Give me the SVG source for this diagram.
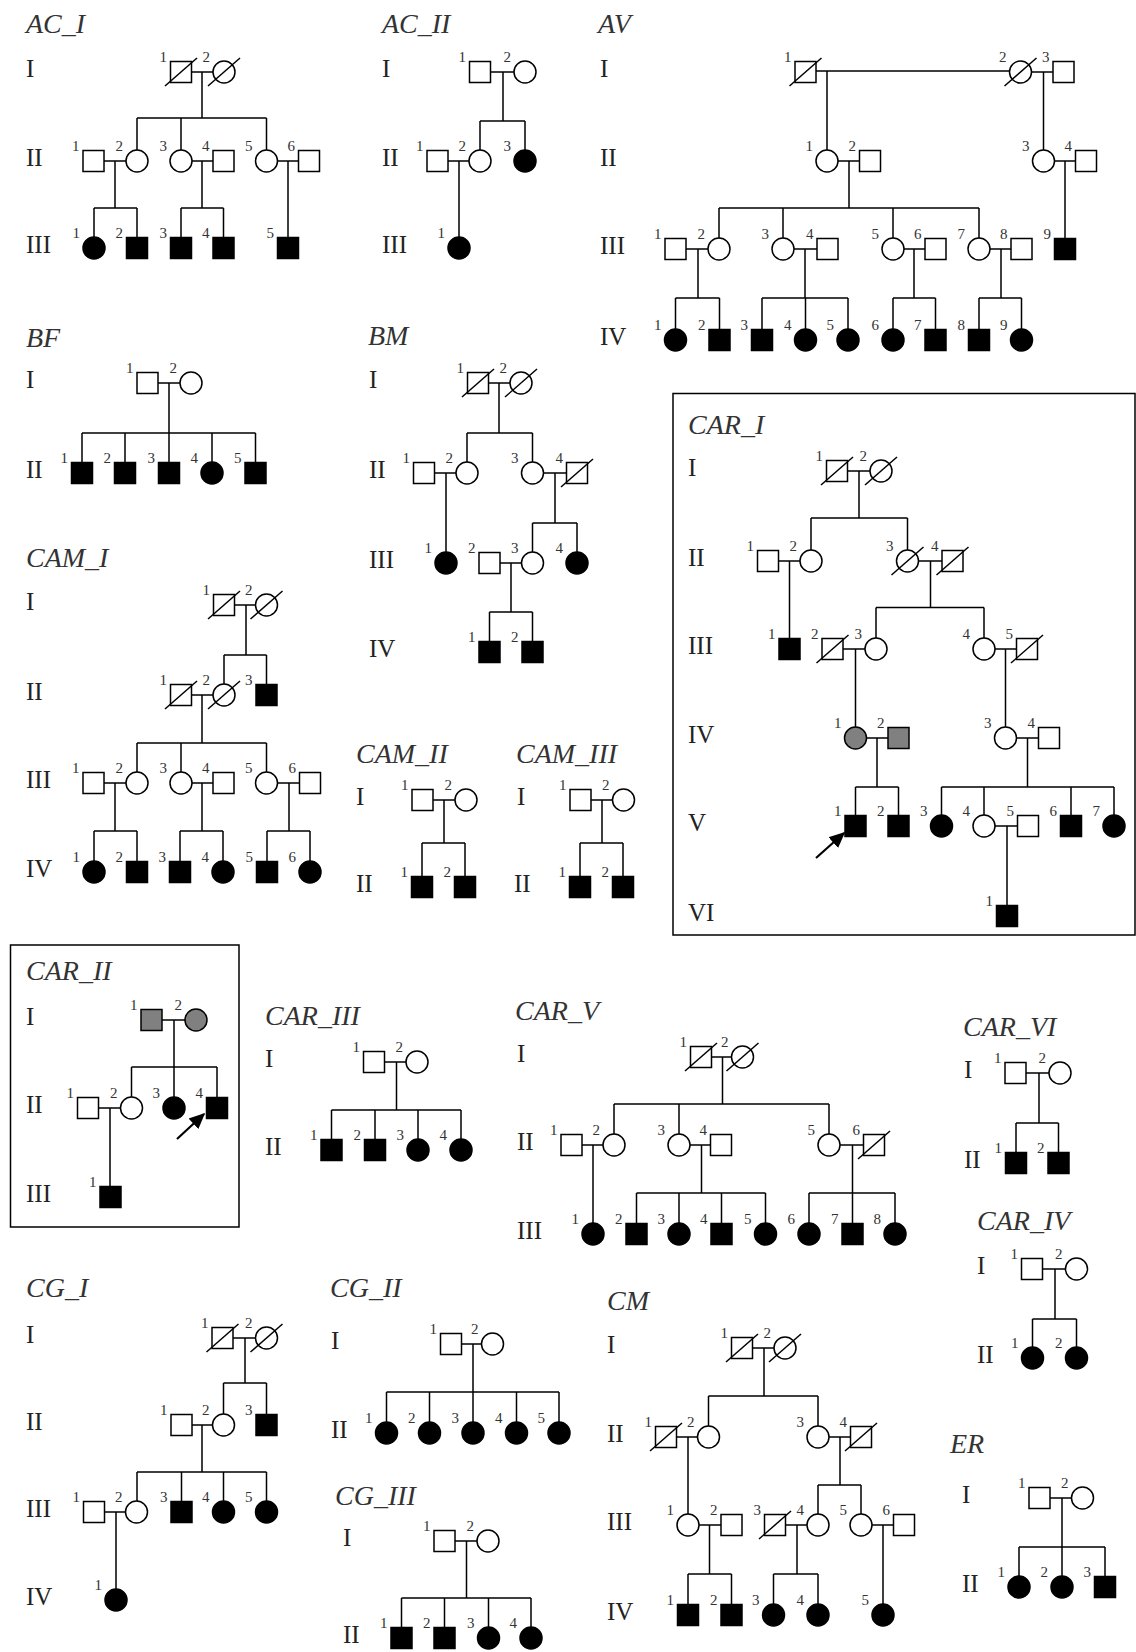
<svg xmlns="http://www.w3.org/2000/svg" width="1136" height="1652" viewBox="0 0 1136 1652">
<style>
.o{fill:#fff;stroke:#000;stroke-width:1.5}
.f{fill:#000;stroke:#000;stroke-width:1.5}
.g{fill:#808080;stroke:#000;stroke-width:1.5}
.x{stroke:#000;stroke-width:1.5}
#connectors path{fill:none;stroke:#000;stroke-width:1.5}
#connectors line{fill:none;stroke:#000;stroke-width:2.2}
.box{fill:none;stroke:#000;stroke-width:1.5}
.n{font-family:"Liberation Serif",serif;font-size:15px;fill:#333;text-anchor:end}
.gen{font-family:"Liberation Serif",serif;font-size:25px;fill:#222}
.t{font-family:"Liberation Serif",serif;font-size:28px;font-style:italic;fill:#333}
</style>
<defs>
<rect id="s" x="-10.5" y="-10.5" width="21" height="21"/>
<circle id="c" r="11"/>
<line id="d" x1="-16" y1="14" x2="16" y2="-14"/>
<marker id="ah" viewBox="0 0 10 10" refX="9" refY="5" markerWidth="16" markerHeight="16" markerUnits="userSpaceOnUse" orient="auto"><path d="M0,0.5L10,5L0,9.5z" fill="#000"/></marker>
</defs>
<rect width="1136" height="1652" fill="#fff"/>
<rect class="box" x="673" y="393.5" width="462" height="541.5"/>
<rect class="box" x="10.5" y="945" width="228.5" height="282"/>
<g id="titles">
<text class="t" x="26" y="33">AC_I</text>
<text class="t" x="382" y="33">AC_II</text>
<text class="t" x="598" y="33">AV</text>
<text class="t" x="26" y="347">BF</text>
<text class="t" x="368" y="345">BM</text>
<text class="t" x="26" y="567">CAM_I</text>
<text class="t" x="356" y="763">CAM_II</text>
<text class="t" x="516" y="763">CAM_III</text>
<text class="t" x="688" y="434">CAR_I</text>
<text class="t" x="26" y="980">CAR_II</text>
<text class="t" x="265" y="1025">CAR_III</text>
<text class="t" x="515" y="1020">CAR_V</text>
<text class="t" x="963" y="1036">CAR_VI</text>
<text class="t" x="977" y="1230">CAR_IV</text>
<text class="t" x="950" y="1453">ER</text>
<text class="t" x="26" y="1297">CG_I</text>
<text class="t" x="330" y="1297">CG_II</text>
<text class="t" x="335" y="1505">CG_III</text>
<text class="t" x="607" y="1310">CM</text>
</g>
<g id="generations">
<text class="gen" x="26" y="77">I</text><text class="gen" x="26" y="166">II</text><text class="gen" x="26" y="253">III</text>
<text class="gen" x="382" y="77">I</text><text class="gen" x="382" y="166">II</text><text class="gen" x="382" y="253">III</text>
<text class="gen" x="600" y="77">I</text><text class="gen" x="600" y="166">II</text><text class="gen" x="600" y="254">III</text><text class="gen" x="600" y="345">IV</text>
<text class="gen" x="26" y="388">I</text><text class="gen" x="26" y="478">II</text>
<text class="gen" x="369" y="388">I</text><text class="gen" x="369" y="478">II</text><text class="gen" x="369" y="568">III</text><text class="gen" x="369" y="657">IV</text>
<text class="gen" x="26" y="610">I</text><text class="gen" x="26" y="700">II</text><text class="gen" x="26" y="788">III</text><text class="gen" x="26" y="877">IV</text>
<text class="gen" x="356" y="805">I</text><text class="gen" x="356" y="892">II</text>
<text class="gen" x="517" y="805">I</text><text class="gen" x="514" y="892">II</text>
<text class="gen" x="688" y="476">I</text><text class="gen" x="688" y="566">II</text><text class="gen" x="688" y="654">III</text><text class="gen" x="688" y="743">IV</text><text class="gen" x="688" y="831">V</text><text class="gen" x="688" y="921">VI</text>
<text class="gen" x="26" y="1025">I</text><text class="gen" x="26" y="1113">II</text><text class="gen" x="26" y="1202">III</text>
<text class="gen" x="265" y="1067">I</text><text class="gen" x="265" y="1155">II</text>
<text class="gen" x="517" y="1062">I</text><text class="gen" x="517" y="1150">II</text><text class="gen" x="517" y="1239">III</text>
<text class="gen" x="964" y="1078">I</text><text class="gen" x="964" y="1168">II</text>
<text class="gen" x="977" y="1274">I</text><text class="gen" x="977" y="1363">II</text>
<text class="gen" x="962" y="1503">I</text><text class="gen" x="962" y="1592">II</text>
<text class="gen" x="26" y="1343">I</text><text class="gen" x="26" y="1430">II</text><text class="gen" x="26" y="1517">III</text><text class="gen" x="26" y="1605">IV</text>
<text class="gen" x="331" y="1349">I</text><text class="gen" x="331" y="1438">II</text>
<text class="gen" x="343" y="1546">I</text><text class="gen" x="343" y="1643">II</text>
<text class="gen" x="607" y="1353">I</text><text class="gen" x="607" y="1442">II</text><text class="gen" x="607" y="1530">III</text><text class="gen" x="607" y="1620">IV</text>
</g>
<g id="connectors">
<path d="M181 72H224M202 72V118M137 118H266.5M137 118V161M181 118V161M266.5 118V161M93.5 161H137M115 161V208M94 208H137M94 208V248M137 208V248M181 161H223.5M202 161V208M181 208H223.5M181 208V248M223.5 208V248M266.5 161H309M288 161V248"/>
<path d="M480 72H525M503 72V121M480 121H525M480 121V161M525 121V161M437.5 161H480M459 161V248"/>
<path d="M805.5 71H1020.5M827 71V161M1020.5 72H1063.5M1043.5 72V161M827 161H870M849 161V208M719 208H979M719 208V249M783 208V249M893 208V249M979 208V249M1043.5 161H1086M1065 161V249M675.5 249H719M698 249V298M675.5 298H719.5M675.5 298V340M719.5 298V340M783 249H827.5M805 249V298M762 298H848M762 298V340M805.5 298V340M848 298V340M893 249H935.5M914 249V298M893 298H935.5M893 298V340M935.5 298V340M979 249H1021.5M1001 249V298M979 298H1021.5M979 298V340M1021.5 298V340"/>
<path d="M147.5 383H191M169 383V473M82 433H255.5M82 433V473M125 433V473M212 433V473M255.5 433V473"/>
<path d="M478 383H521M499 383V433M467 433H532.5M467 433V473M532.5 433V473M424 473H467M446 473V563M532.5 473H577M555 473V523M532.5 523H577M532.5 523V563M577 523V563M489.5 563H532.5M511 563V612M489.5 612H532.5M489.5 612V652M532.5 612V652"/>
<path d="M224 605H266.5M246 605V655M224 655H266.5M224 655V695M266.5 655V695M181 695H224M202 695V743M137 743H266.5M137 743V783M181 743V783M266.5 743V783M93.5 783H137M115 783V831M94 831H137M94 831V872M137 831V872M181 783H223.5M202 783V831M180 831H223M180 831V872M223 831V872M266.5 783H310M289 783V831M267 831H310M267 831V872M310 831V872"/>
<path d="M422.5 800H466M444 800V843M422 843H465M422 843V887M465 843V887"/>
<path d="M580.5 800H623.5M602 800V843M580 843H623M580 843V887M623 843V887"/>
<path d="M837 471H881M859 471V518M811 518H907.5M811 518V561M907.5 518V561M768 561H811M789.5 561V649M907.5 561H952.5M930.5 561V607.5M876 607.5H984M876 607.5V649M984 607.5V649M832.5 649H876M855.5 649V738M984 649H1027M1005.5 649V738M855.5 738H898.5M877 738V787M855.5 787H898.5M855.5 787V826M898.5 787V826M1005.5 738H1049M1027.5 738V787M941.5 787H1114M941.5 787V826M984 787V826M1071 787V826M1114 787V826M984 826H1028M1007 826V916"/>
<path d="M151.5 1020H196M174 1020V1108M131.5 1067H217M131.5 1067V1108M217 1067V1108M88 1108H131.5M110 1108V1197"/>
<path d="M374 1062H417M396.5 1062V1110M331.5 1110H461M331.5 1110V1150M375 1110V1150M418 1110V1150M461 1110V1150"/>
<path d="M701 1057H742.5M722.5 1057V1104M614 1104H829M614 1104V1145M679 1104V1145M829 1104V1145M571.5 1145H614M593 1145V1234M679 1145H721M701.5 1145V1193M636.5 1193H765.5M636.5 1193V1234M679 1193V1234M721.5 1193V1234M765.5 1193V1234M829 1145H874M852.5 1145V1234M809 1193H895M809 1193V1234M895 1193V1234"/>
<path d="M1015.5 1073H1060M1039 1073V1123M1016 1123H1058.5M1016 1123V1163M1058.5 1123V1163"/>
<path d="M1032 1269H1076.5M1055 1269V1319M1032.5 1319H1076.5M1032.5 1319V1358M1076.5 1319V1358"/>
<path d="M1039.5 1498H1082.5M1062 1498V1587M1019 1547H1105M1019 1547V1587M1105 1547V1587"/>
<path d="M222.5 1338H266.5M245 1338V1383M223.5 1383H266.5M223.5 1383V1425M266.5 1383V1425M181.5 1425H223.5M202 1425V1472M137 1472H266.5M137 1472V1512M181.5 1472V1512M223.5 1472V1512M266.5 1472V1512M94 1512H136.5M116 1512V1600"/>
<path d="M451 1344H492.5M473 1344V1433M386.5 1392H559M386.5 1392V1433M429.5 1392V1433M516.5 1392V1433M559 1392V1433"/>
<path d="M444.5 1541H488M466.5 1541V1598M401.5 1598H531M401.5 1598V1638M444.5 1598V1638M488.5 1598V1638M531 1598V1638"/>
<path d="M742 1348H785M764 1348V1396M708.5 1396H818M708.5 1396V1437M818 1396V1437M666 1437H708.5M688 1437V1525M818 1437H861M840 1437V1485M818 1485H861M818 1485V1525M861 1485V1525M688 1525H731.5M709.5 1525V1574M688 1574H731.5M688 1574V1615M731.5 1574V1615M775 1525H818M797 1525V1574M773.5 1574H818M773.5 1574V1615M818 1574V1615M861 1525H904M883 1525V1615"/>
<line x1="816" y1="858" x2="844" y2="833" marker-end="url(#ah)"/>
<line x1="177" y1="1139" x2="204" y2="1114" marker-end="url(#ah)"/>
</g>
<g id="nodes">
<g id="acI-I1"><use href="#s" x="181" y="72" class="o"/><use href="#d" x="181" y="72" class="x"/><text class="n" x="167" y="62">1</text></g>
<g id="acI-I2"><use href="#c" x="224" y="72" class="o"/><use href="#d" x="224" y="72" class="x"/><text class="n" x="210" y="62">2</text></g>
<g id="acI-II1"><use href="#s" x="93.5" y="161" class="o"/><text class="n" x="79.5" y="151">1</text></g>
<g id="acI-II2"><use href="#c" x="137" y="161" class="o"/><text class="n" x="123" y="151">2</text></g>
<g id="acI-II3"><use href="#c" x="181" y="161" class="o"/><text class="n" x="167" y="151">3</text></g>
<g id="acI-II4"><use href="#s" x="223.5" y="161" class="o"/><text class="n" x="209.5" y="151">4</text></g>
<g id="acI-II5"><use href="#c" x="266.5" y="161" class="o"/><text class="n" x="252.5" y="151">5</text></g>
<g id="acI-II6"><use href="#s" x="309" y="161" class="o"/><text class="n" x="295" y="151">6</text></g>
<g id="acI-III1"><use href="#c" x="94" y="248" class="f"/><text class="n" x="80" y="238">1</text></g>
<g id="acI-III2"><use href="#s" x="137" y="248" class="f"/><text class="n" x="123" y="238">2</text></g>
<g id="acI-III3"><use href="#s" x="181" y="248" class="f"/><text class="n" x="167" y="238">3</text></g>
<g id="acI-III4"><use href="#s" x="223.5" y="248" class="f"/><text class="n" x="209.5" y="238">4</text></g>
<g id="acI-III5"><use href="#s" x="288" y="248" class="f"/><text class="n" x="274" y="238">5</text></g>
<g id="acII-I1"><use href="#s" x="480" y="72" class="o"/><text class="n" x="466" y="62">1</text></g>
<g id="acII-I2"><use href="#c" x="525" y="72" class="o"/><text class="n" x="511" y="62">2</text></g>
<g id="acII-II1"><use href="#s" x="437.5" y="161" class="o"/><text class="n" x="423.5" y="151">1</text></g>
<g id="acII-II2"><use href="#c" x="480" y="161" class="o"/><text class="n" x="466" y="151">2</text></g>
<g id="acII-II3"><use href="#c" x="525" y="161" class="f"/><text class="n" x="511" y="151">3</text></g>
<g id="acII-III1"><use href="#c" x="459" y="248" class="f"/><text class="n" x="445" y="238">1</text></g>
<g id="av-I1"><use href="#s" x="805.5" y="72" class="o"/><use href="#d" x="805.5" y="72" class="x"/><text class="n" x="791.5" y="62">1</text></g>
<g id="av-I2"><use href="#c" x="1020.5" y="72" class="o"/><use href="#d" x="1020.5" y="72" class="x"/><text class="n" x="1006.5" y="62">2</text></g>
<g id="av-I3"><use href="#s" x="1063.5" y="72" class="o"/><text class="n" x="1049.5" y="62">3</text></g>
<g id="av-II1"><use href="#c" x="827" y="161" class="o"/><text class="n" x="813" y="151">1</text></g>
<g id="av-II2"><use href="#s" x="870" y="161" class="o"/><text class="n" x="856" y="151">2</text></g>
<g id="av-II3"><use href="#c" x="1043.5" y="161" class="o"/><text class="n" x="1029.5" y="151">3</text></g>
<g id="av-II4"><use href="#s" x="1086" y="161" class="o"/><text class="n" x="1072" y="151">4</text></g>
<g id="av-III1"><use href="#s" x="675.5" y="249" class="o"/><text class="n" x="661.5" y="239">1</text></g>
<g id="av-III2"><use href="#c" x="719" y="249" class="o"/><text class="n" x="705" y="239">2</text></g>
<g id="av-III3"><use href="#c" x="783" y="249" class="o"/><text class="n" x="769" y="239">3</text></g>
<g id="av-III4"><use href="#s" x="827.5" y="249" class="o"/><text class="n" x="813.5" y="239">4</text></g>
<g id="av-III5"><use href="#c" x="893" y="249" class="o"/><text class="n" x="879" y="239">5</text></g>
<g id="av-III6"><use href="#s" x="935.5" y="249" class="o"/><text class="n" x="921.5" y="239">6</text></g>
<g id="av-III7"><use href="#c" x="979" y="249" class="o"/><text class="n" x="965" y="239">7</text></g>
<g id="av-III8"><use href="#s" x="1021.5" y="249" class="o"/><text class="n" x="1007.5" y="239">8</text></g>
<g id="av-III9"><use href="#s" x="1065" y="249" class="f"/><text class="n" x="1051" y="239">9</text></g>
<g id="av-IV1"><use href="#c" x="675.5" y="340" class="f"/><text class="n" x="661.5" y="330">1</text></g>
<g id="av-IV2"><use href="#s" x="719.5" y="340" class="f"/><text class="n" x="705.5" y="330">2</text></g>
<g id="av-IV3"><use href="#s" x="762" y="340" class="f"/><text class="n" x="748" y="330">3</text></g>
<g id="av-IV4"><use href="#c" x="805.5" y="340" class="f"/><text class="n" x="791.5" y="330">4</text></g>
<g id="av-IV5"><use href="#c" x="848" y="340" class="f"/><text class="n" x="834" y="330">5</text></g>
<g id="av-IV6"><use href="#c" x="893" y="340" class="f"/><text class="n" x="879" y="330">6</text></g>
<g id="av-IV7"><use href="#s" x="935.5" y="340" class="f"/><text class="n" x="921.5" y="330">7</text></g>
<g id="av-IV8"><use href="#s" x="979" y="340" class="f"/><text class="n" x="965" y="330">8</text></g>
<g id="av-IV9"><use href="#c" x="1021.5" y="340" class="f"/><text class="n" x="1007.5" y="330">9</text></g>
<g id="bf-I1"><use href="#s" x="147.5" y="383" class="o"/><text class="n" x="133.5" y="373">1</text></g>
<g id="bf-I2"><use href="#c" x="191" y="383" class="o"/><text class="n" x="177" y="373">2</text></g>
<g id="bf-II1"><use href="#s" x="82" y="473" class="f"/><text class="n" x="68" y="463">1</text></g>
<g id="bf-II2"><use href="#s" x="125" y="473" class="f"/><text class="n" x="111" y="463">2</text></g>
<g id="bf-II3"><use href="#s" x="169" y="473" class="f"/><text class="n" x="155" y="463">3</text></g>
<g id="bf-II4"><use href="#c" x="212" y="473" class="f"/><text class="n" x="198" y="463">4</text></g>
<g id="bf-II5"><use href="#s" x="255.5" y="473" class="f"/><text class="n" x="241.5" y="463">5</text></g>
<g id="bm-I1"><use href="#s" x="478" y="383" class="o"/><use href="#d" x="478" y="383" class="x"/><text class="n" x="464" y="373">1</text></g>
<g id="bm-I2"><use href="#c" x="521" y="383" class="o"/><use href="#d" x="521" y="383" class="x"/><text class="n" x="507" y="373">2</text></g>
<g id="bm-II1"><use href="#s" x="424" y="473" class="o"/><text class="n" x="410" y="463">1</text></g>
<g id="bm-II2"><use href="#c" x="467" y="473" class="o"/><text class="n" x="453" y="463">2</text></g>
<g id="bm-II3"><use href="#c" x="532.5" y="473" class="o"/><text class="n" x="518.5" y="463">3</text></g>
<g id="bm-II4"><use href="#s" x="577" y="473" class="o"/><use href="#d" x="577" y="473" class="x"/><text class="n" x="563" y="463">4</text></g>
<g id="bm-III1"><use href="#c" x="446" y="563" class="f"/><text class="n" x="432" y="553">1</text></g>
<g id="bm-III2"><use href="#s" x="489.5" y="563" class="o"/><text class="n" x="475.5" y="553">2</text></g>
<g id="bm-III3"><use href="#c" x="532.5" y="563" class="o"/><text class="n" x="518.5" y="553">3</text></g>
<g id="bm-III4"><use href="#c" x="577" y="563" class="f"/><text class="n" x="563" y="553">4</text></g>
<g id="bm-IV1"><use href="#s" x="489.5" y="652" class="f"/><text class="n" x="475.5" y="642">1</text></g>
<g id="bm-IV2"><use href="#s" x="532.5" y="652" class="f"/><text class="n" x="518.5" y="642">2</text></g>
<g id="camI-I1"><use href="#s" x="224" y="605" class="o"/><use href="#d" x="224" y="605" class="x"/><text class="n" x="210" y="595">1</text></g>
<g id="camI-I2"><use href="#c" x="266.5" y="605" class="o"/><use href="#d" x="266.5" y="605" class="x"/><text class="n" x="252.5" y="595">2</text></g>
<g id="camI-II1"><use href="#s" x="181" y="695" class="o"/><use href="#d" x="181" y="695" class="x"/><text class="n" x="167" y="685">1</text></g>
<g id="camI-II2"><use href="#c" x="224" y="695" class="o"/><use href="#d" x="224" y="695" class="x"/><text class="n" x="210" y="685">2</text></g>
<g id="camI-II3"><use href="#s" x="266.5" y="695" class="f"/><text class="n" x="252.5" y="685">3</text></g>
<g id="camI-III1"><use href="#s" x="93.5" y="783" class="o"/><text class="n" x="79.5" y="773">1</text></g>
<g id="camI-III2"><use href="#c" x="137" y="783" class="o"/><text class="n" x="123" y="773">2</text></g>
<g id="camI-III3"><use href="#c" x="181" y="783" class="o"/><text class="n" x="167" y="773">3</text></g>
<g id="camI-III4"><use href="#s" x="223.5" y="783" class="o"/><text class="n" x="209.5" y="773">4</text></g>
<g id="camI-III5"><use href="#c" x="266.5" y="783" class="o"/><text class="n" x="252.5" y="773">5</text></g>
<g id="camI-III6"><use href="#s" x="310" y="783" class="o"/><text class="n" x="296" y="773">6</text></g>
<g id="camI-IV1"><use href="#c" x="94" y="872" class="f"/><text class="n" x="80" y="862">1</text></g>
<g id="camI-IV2"><use href="#s" x="137" y="872" class="f"/><text class="n" x="123" y="862">2</text></g>
<g id="camI-IV3"><use href="#s" x="180" y="872" class="f"/><text class="n" x="166" y="862">3</text></g>
<g id="camI-IV4"><use href="#c" x="223" y="872" class="f"/><text class="n" x="209" y="862">4</text></g>
<g id="camI-IV5"><use href="#s" x="267" y="872" class="f"/><text class="n" x="253" y="862">5</text></g>
<g id="camI-IV6"><use href="#c" x="310" y="872" class="f"/><text class="n" x="296" y="862">6</text></g>
<g id="camII-I1"><use href="#s" x="422.5" y="800" class="o"/><text class="n" x="408.5" y="790">1</text></g>
<g id="camII-I2"><use href="#c" x="466" y="800" class="o"/><text class="n" x="452" y="790">2</text></g>
<g id="camII-II1"><use href="#s" x="422" y="887" class="f"/><text class="n" x="408" y="877">1</text></g>
<g id="camII-II2"><use href="#s" x="465" y="887" class="f"/><text class="n" x="451" y="877">2</text></g>
<g id="camIII-I1"><use href="#s" x="580.5" y="800" class="o"/><text class="n" x="566.5" y="790">1</text></g>
<g id="camIII-I2"><use href="#c" x="623.5" y="800" class="o"/><text class="n" x="609.5" y="790">2</text></g>
<g id="camIII-II1"><use href="#s" x="580" y="887" class="f"/><text class="n" x="566" y="877">1</text></g>
<g id="camIII-II2"><use href="#s" x="623" y="887" class="f"/><text class="n" x="609" y="877">2</text></g>
<g id="carI-I1"><use href="#s" x="837" y="471" class="o"/><use href="#d" x="837" y="471" class="x"/><text class="n" x="823" y="461">1</text></g>
<g id="carI-I2"><use href="#c" x="881" y="471" class="o"/><use href="#d" x="881" y="471" class="x"/><text class="n" x="867" y="461">2</text></g>
<g id="carI-II1"><use href="#s" x="768" y="561" class="o"/><text class="n" x="754" y="551">1</text></g>
<g id="carI-II2"><use href="#c" x="811" y="561" class="o"/><text class="n" x="797" y="551">2</text></g>
<g id="carI-II3"><use href="#c" x="907.5" y="561" class="o"/><use href="#d" x="907.5" y="561" class="x"/><text class="n" x="893.5" y="551">3</text></g>
<g id="carI-II4"><use href="#s" x="952.5" y="561" class="o"/><use href="#d" x="952.5" y="561" class="x"/><text class="n" x="938.5" y="551">4</text></g>
<g id="carI-III1"><use href="#s" x="789.5" y="649" class="f"/><text class="n" x="775.5" y="639">1</text></g>
<g id="carI-III2"><use href="#s" x="832.5" y="649" class="o"/><use href="#d" x="832.5" y="649" class="x"/><text class="n" x="818.5" y="639">2</text></g>
<g id="carI-III3"><use href="#c" x="876" y="649" class="o"/><text class="n" x="862" y="639">3</text></g>
<g id="carI-III4"><use href="#c" x="984" y="649" class="o"/><text class="n" x="970" y="639">4</text></g>
<g id="carI-III5"><use href="#s" x="1027" y="649" class="o"/><use href="#d" x="1027" y="649" class="x"/><text class="n" x="1013" y="639">5</text></g>
<g id="carI-IV1"><use href="#c" x="855.5" y="738" class="g"/><text class="n" x="841.5" y="728">1</text></g>
<g id="carI-IV2"><use href="#s" x="898.5" y="738" class="g"/><text class="n" x="884.5" y="728">2</text></g>
<g id="carI-IV3"><use href="#c" x="1005.5" y="738" class="o"/><text class="n" x="991.5" y="728">3</text></g>
<g id="carI-IV4"><use href="#s" x="1049" y="738" class="o"/><text class="n" x="1035" y="728">4</text></g>
<g id="carI-V1"><use href="#s" x="855.5" y="826" class="f"/><text class="n" x="841.5" y="816">1</text></g>
<g id="carI-V2"><use href="#s" x="898.5" y="826" class="f"/><text class="n" x="884.5" y="816">2</text></g>
<g id="carI-V3"><use href="#c" x="941.5" y="826" class="f"/><text class="n" x="927.5" y="816">3</text></g>
<g id="carI-V4"><use href="#c" x="984" y="826" class="o"/><text class="n" x="970" y="816">4</text></g>
<g id="carI-V5"><use href="#s" x="1028" y="826" class="o"/><text class="n" x="1014" y="816">5</text></g>
<g id="carI-V6"><use href="#s" x="1071" y="826" class="f"/><text class="n" x="1057" y="816">6</text></g>
<g id="carI-V7"><use href="#c" x="1114" y="826" class="f"/><text class="n" x="1100" y="816">7</text></g>
<g id="carI-VI1"><use href="#s" x="1007" y="916" class="f"/><text class="n" x="993" y="906">1</text></g>
<g id="carII-I1"><use href="#s" x="151.5" y="1020" class="g"/><text class="n" x="137.5" y="1010">1</text></g>
<g id="carII-I2"><use href="#c" x="196" y="1020" class="g"/><text class="n" x="182" y="1010">2</text></g>
<g id="carII-II1"><use href="#s" x="88" y="1108" class="o"/><text class="n" x="74" y="1098">1</text></g>
<g id="carII-II2"><use href="#c" x="131.5" y="1108" class="o"/><text class="n" x="117.5" y="1098">2</text></g>
<g id="carII-II3"><use href="#c" x="174" y="1108" class="f"/><text class="n" x="160" y="1098">3</text></g>
<g id="carII-II4"><use href="#s" x="217" y="1108" class="f"/><text class="n" x="203" y="1098">4</text></g>
<g id="carII-III1"><use href="#s" x="110.5" y="1197" class="f"/><text class="n" x="96.5" y="1187">1</text></g>
<g id="carIII-I1"><use href="#s" x="374" y="1062" class="o"/><text class="n" x="360" y="1052">1</text></g>
<g id="carIII-I2"><use href="#c" x="417" y="1062" class="o"/><text class="n" x="403" y="1052">2</text></g>
<g id="carIII-II1"><use href="#s" x="331.5" y="1150" class="f"/><text class="n" x="317.5" y="1140">1</text></g>
<g id="carIII-II2"><use href="#s" x="375" y="1150" class="f"/><text class="n" x="361" y="1140">2</text></g>
<g id="carIII-II3"><use href="#c" x="418" y="1150" class="f"/><text class="n" x="404" y="1140">3</text></g>
<g id="carIII-II4"><use href="#c" x="461" y="1150" class="f"/><text class="n" x="447" y="1140">4</text></g>
<g id="carV-I1"><use href="#s" x="701" y="1057" class="o"/><use href="#d" x="701" y="1057" class="x"/><text class="n" x="687" y="1047">1</text></g>
<g id="carV-I2"><use href="#c" x="742.5" y="1057" class="o"/><use href="#d" x="742.5" y="1057" class="x"/><text class="n" x="728.5" y="1047">2</text></g>
<g id="carV-II1"><use href="#s" x="571.5" y="1145" class="o"/><text class="n" x="557.5" y="1135">1</text></g>
<g id="carV-II2"><use href="#c" x="614" y="1145" class="o"/><text class="n" x="600" y="1135">2</text></g>
<g id="carV-II3"><use href="#c" x="679" y="1145" class="o"/><text class="n" x="665" y="1135">3</text></g>
<g id="carV-II4"><use href="#s" x="721" y="1145" class="o"/><text class="n" x="707" y="1135">4</text></g>
<g id="carV-II5"><use href="#c" x="829" y="1145" class="o"/><text class="n" x="815" y="1135">5</text></g>
<g id="carV-II6"><use href="#s" x="874" y="1145" class="o"/><use href="#d" x="874" y="1145" class="x"/><text class="n" x="860" y="1135">6</text></g>
<g id="carV-III1"><use href="#c" x="593" y="1234" class="f"/><text class="n" x="579" y="1224">1</text></g>
<g id="carV-III2"><use href="#s" x="636.5" y="1234" class="f"/><text class="n" x="622.5" y="1224">2</text></g>
<g id="carV-III3"><use href="#c" x="679" y="1234" class="f"/><text class="n" x="665" y="1224">3</text></g>
<g id="carV-III4"><use href="#s" x="721.5" y="1234" class="f"/><text class="n" x="707.5" y="1224">4</text></g>
<g id="carV-III5"><use href="#c" x="765.5" y="1234" class="f"/><text class="n" x="751.5" y="1224">5</text></g>
<g id="carV-III6"><use href="#c" x="809" y="1234" class="f"/><text class="n" x="795" y="1224">6</text></g>
<g id="carV-III7"><use href="#s" x="852.5" y="1234" class="f"/><text class="n" x="838.5" y="1224">7</text></g>
<g id="carV-III8"><use href="#c" x="895" y="1234" class="f"/><text class="n" x="881" y="1224">8</text></g>
<g id="carVI-I1"><use href="#s" x="1015.5" y="1073" class="o"/><text class="n" x="1001.5" y="1063">1</text></g>
<g id="carVI-I2"><use href="#c" x="1060" y="1073" class="o"/><text class="n" x="1046" y="1063">2</text></g>
<g id="carVI-II1"><use href="#s" x="1016" y="1163" class="f"/><text class="n" x="1002" y="1153">1</text></g>
<g id="carVI-II2"><use href="#s" x="1058.5" y="1163" class="f"/><text class="n" x="1044.5" y="1153">2</text></g>
<g id="carIV-I1"><use href="#s" x="1032" y="1269" class="o"/><text class="n" x="1018" y="1259">1</text></g>
<g id="carIV-I2"><use href="#c" x="1076.5" y="1269" class="o"/><text class="n" x="1062.5" y="1259">2</text></g>
<g id="carIV-II1"><use href="#c" x="1032.5" y="1358" class="f"/><text class="n" x="1018.5" y="1348">1</text></g>
<g id="carIV-II2"><use href="#c" x="1076.5" y="1358" class="f"/><text class="n" x="1062.5" y="1348">2</text></g>
<g id="er-I1"><use href="#s" x="1039.5" y="1498" class="o"/><text class="n" x="1025.5" y="1488">1</text></g>
<g id="er-I2"><use href="#c" x="1082.5" y="1498" class="o"/><text class="n" x="1068.5" y="1488">2</text></g>
<g id="er-II1"><use href="#c" x="1019" y="1587" class="f"/><text class="n" x="1005" y="1577">1</text></g>
<g id="er-II2"><use href="#c" x="1062" y="1587" class="f"/><text class="n" x="1048" y="1577">2</text></g>
<g id="er-II3"><use href="#s" x="1105" y="1587" class="f"/><text class="n" x="1091" y="1577">3</text></g>
<g id="cgI-I1"><use href="#s" x="222.5" y="1338" class="o"/><use href="#d" x="222.5" y="1338" class="x"/><text class="n" x="208.5" y="1328">1</text></g>
<g id="cgI-I2"><use href="#c" x="266.5" y="1338" class="o"/><use href="#d" x="266.5" y="1338" class="x"/><text class="n" x="252.5" y="1328">2</text></g>
<g id="cgI-II1"><use href="#s" x="181.5" y="1425" class="o"/><text class="n" x="167.5" y="1415">1</text></g>
<g id="cgI-II2"><use href="#c" x="223.5" y="1425" class="o"/><text class="n" x="209.5" y="1415">2</text></g>
<g id="cgI-II3"><use href="#s" x="266.5" y="1425" class="f"/><text class="n" x="252.5" y="1415">3</text></g>
<g id="cgI-III1"><use href="#s" x="94" y="1512" class="o"/><text class="n" x="80" y="1502">1</text></g>
<g id="cgI-III2"><use href="#c" x="136.5" y="1512" class="o"/><text class="n" x="122.5" y="1502">2</text></g>
<g id="cgI-III3"><use href="#s" x="181.5" y="1512" class="f"/><text class="n" x="167.5" y="1502">3</text></g>
<g id="cgI-III4"><use href="#c" x="223.5" y="1512" class="f"/><text class="n" x="209.5" y="1502">4</text></g>
<g id="cgI-III5"><use href="#c" x="266.5" y="1512" class="f"/><text class="n" x="252.5" y="1502">5</text></g>
<g id="cgI-IV1"><use href="#c" x="116" y="1600" class="f"/><text class="n" x="102" y="1590">1</text></g>
<g id="cgII-I1"><use href="#s" x="451" y="1344" class="o"/><text class="n" x="437" y="1334">1</text></g>
<g id="cgII-I2"><use href="#c" x="492.5" y="1344" class="o"/><text class="n" x="478.5" y="1334">2</text></g>
<g id="cgII-II1"><use href="#c" x="386.5" y="1433" class="f"/><text class="n" x="372.5" y="1423">1</text></g>
<g id="cgII-II2"><use href="#c" x="429.5" y="1433" class="f"/><text class="n" x="415.5" y="1423">2</text></g>
<g id="cgII-II3"><use href="#c" x="473" y="1433" class="f"/><text class="n" x="459" y="1423">3</text></g>
<g id="cgII-II4"><use href="#c" x="516.5" y="1433" class="f"/><text class="n" x="502.5" y="1423">4</text></g>
<g id="cgII-II5"><use href="#c" x="559" y="1433" class="f"/><text class="n" x="545" y="1423">5</text></g>
<g id="cgIII-I1"><use href="#s" x="444.5" y="1541" class="o"/><text class="n" x="430.5" y="1531">1</text></g>
<g id="cgIII-I2"><use href="#c" x="488" y="1541" class="o"/><text class="n" x="474" y="1531">2</text></g>
<g id="cgIII-II1"><use href="#s" x="401.5" y="1638" class="f"/><text class="n" x="387.5" y="1628">1</text></g>
<g id="cgIII-II2"><use href="#s" x="444.5" y="1638" class="f"/><text class="n" x="430.5" y="1628">2</text></g>
<g id="cgIII-II3"><use href="#c" x="488.5" y="1638" class="f"/><text class="n" x="474.5" y="1628">3</text></g>
<g id="cgIII-II4"><use href="#c" x="531" y="1638" class="f"/><text class="n" x="517" y="1628">4</text></g>
<g id="cm-I1"><use href="#s" x="742" y="1348" class="o"/><use href="#d" x="742" y="1348" class="x"/><text class="n" x="728" y="1338">1</text></g>
<g id="cm-I2"><use href="#c" x="785" y="1348" class="o"/><use href="#d" x="785" y="1348" class="x"/><text class="n" x="771" y="1338">2</text></g>
<g id="cm-II1"><use href="#s" x="666" y="1437" class="o"/><use href="#d" x="666" y="1437" class="x"/><text class="n" x="652" y="1427">1</text></g>
<g id="cm-II2"><use href="#c" x="708.5" y="1437" class="o"/><text class="n" x="694.5" y="1427">2</text></g>
<g id="cm-II3"><use href="#c" x="818" y="1437" class="o"/><text class="n" x="804" y="1427">3</text></g>
<g id="cm-II4"><use href="#s" x="861" y="1437" class="o"/><use href="#d" x="861" y="1437" class="x"/><text class="n" x="847" y="1427">4</text></g>
<g id="cm-III1"><use href="#c" x="688" y="1525" class="o"/><text class="n" x="674" y="1515">1</text></g>
<g id="cm-III2"><use href="#s" x="731.5" y="1525" class="o"/><text class="n" x="717.5" y="1515">2</text></g>
<g id="cm-III3"><use href="#s" x="775" y="1525" class="o"/><use href="#d" x="775" y="1525" class="x"/><text class="n" x="761" y="1515">3</text></g>
<g id="cm-III4"><use href="#c" x="818" y="1525" class="o"/><text class="n" x="804" y="1515">4</text></g>
<g id="cm-III5"><use href="#c" x="861" y="1525" class="o"/><text class="n" x="847" y="1515">5</text></g>
<g id="cm-III6"><use href="#s" x="904" y="1525" class="o"/><text class="n" x="890" y="1515">6</text></g>
<g id="cm-IV1"><use href="#s" x="688" y="1615" class="f"/><text class="n" x="674" y="1605">1</text></g>
<g id="cm-IV2"><use href="#s" x="731.5" y="1615" class="f"/><text class="n" x="717.5" y="1605">2</text></g>
<g id="cm-IV3"><use href="#c" x="773.5" y="1615" class="f"/><text class="n" x="759.5" y="1605">3</text></g>
<g id="cm-IV4"><use href="#c" x="818" y="1615" class="f"/><text class="n" x="804" y="1605">4</text></g>
<g id="cm-IV5"><use href="#c" x="883" y="1615" class="f"/><text class="n" x="869" y="1605">5</text></g>
</g>
</svg>
